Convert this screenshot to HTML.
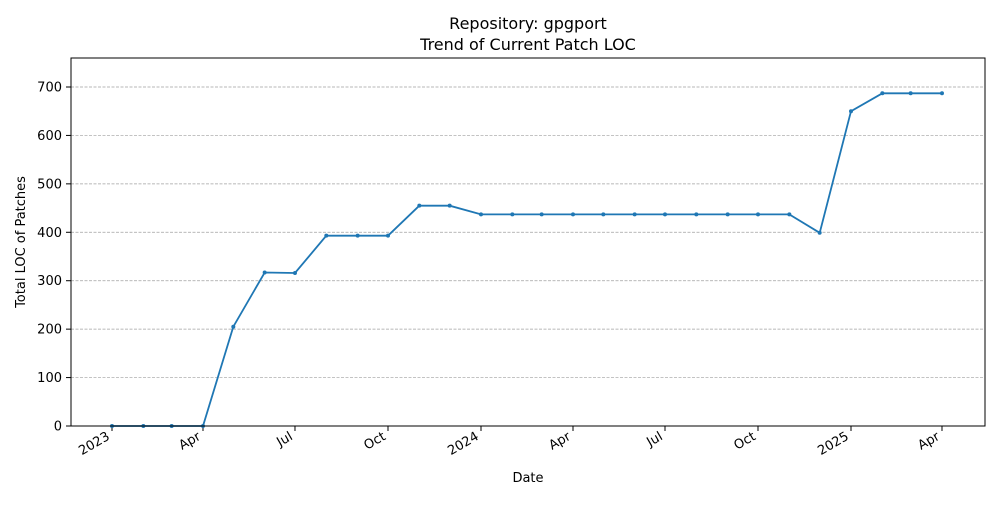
<!DOCTYPE html>
<html><head><meta charset="utf-8"><style>
body{margin:0;background:#fff;font-family:"Liberation Sans","DejaVu Sans",sans-serif}
svg text{font-family:"DejaVu Sans","Liberation Sans",sans-serif}
</style></head><body>
<svg id="chart" width="1000" height="500" xmlns="http://www.w3.org/2000/svg">
<text x="528" y="29" text-anchor="middle" font-size="16">Repository: gpgport</text>
<text x="528" y="50" text-anchor="middle" font-size="16">Trend of Current Patch LOC</text>
<g id="grid"></g><g id="axes"></g><g id="series"></g>
<rect x="71" y="58" width="914" height="368" fill="none" stroke="#000" stroke-width="1"/>
<text x="528" y="482" text-anchor="middle" font-size="13">Date</text>
<text transform="translate(25,242) rotate(-90)" text-anchor="middle" font-size="13">Total LOC of Patches</text>
</svg>
<script>
const dates=["2023-01-01","2023-02-01","2023-03-01","2023-04-01","2023-05-01","2023-06-01","2023-07-01","2023-08-01","2023-09-01","2023-10-01","2023-11-01","2023-12-01","2024-01-01","2024-02-01","2024-03-01","2024-04-01","2024-05-01","2024-06-01","2024-07-01","2024-08-01","2024-09-01","2024-10-01","2024-11-01","2024-12-01","2025-01-01","2025-02-01","2025-03-01","2025-04-01"];
const locValues=[0,0,0,0,205,317,316,393,393,393,455,455,437,437,437,437,437,437,437,437,437,437,437,399,650,687,687,687];
const yTicks=[0,100,200,300,400,500,600,700];
const xTickDates=["2023-01-01","2023-04-01","2023-07-01","2023-10-01","2024-01-01","2024-04-01","2024-07-01","2024-10-01","2025-01-01","2025-04-01"];
const xTickLabels=["2023","Apr","Jul","Oct","2024","Apr","Jul","Oct","2025","Apr"];
const NS="http://www.w3.org/2000/svg";
const day=86400000,t0=Date.UTC(2023,0,1);
function xs(d){return 112+((Date.parse(d)-t0)/day)*(739/731);}
function ys(v){return 426-v*(339/700);}
function mk(tag,attrs,parent){const e=document.createElementNS(NS,tag);for(const k in attrs)e.setAttribute(k,attrs[k]);document.getElementById(parent).appendChild(e);return e;}
yTicks.forEach(v=>{
 const g=mk("line",{x1:71,x2:985,y1:ys(v),y2:ys(v),stroke:"#a0a0a0","stroke-width":0.7,"stroke-dasharray":"3,1.5"},"grid");
 
 
 const t=mk("line",{x1:66,x2:71,y1:ys(v),y2:ys(v),stroke:"#000"},"axes");
 
 
 const l=mk("text",{x:62,y:ys(v)+4.5,"text-anchor":"end","font-size":13},"axes");
 l.textContent=v;
 
 
});
xTickDates.forEach((d,i)=>{
 const x=xs(d);
 const t=mk("line",{x1:x,x2:x,y1:426,y2:431,stroke:"#000"},"axes");
 
 
 const l=mk("text",{transform:`translate(${x-6},${431}) rotate(-30)`,"text-anchor":"end","font-size":13,y:9},"axes");
 l.textContent=xTickLabels[i];
 
 
});
const pts=dates.map((d,i)=>xs(d).toFixed(1)+","+ys(locValues[i]).toFixed(1)).join(" ");
const pl=mk("polyline",{points:pts,fill:"none",stroke:"#1f77b4","stroke-width":1.8},"series");


dates.forEach((d,i)=>{
 const c=mk("circle",{cx:xs(d),cy:ys(locValues[i]),r:2,fill:"#1f77b4"},"series");
 
 
});
</script>
</body></html>
